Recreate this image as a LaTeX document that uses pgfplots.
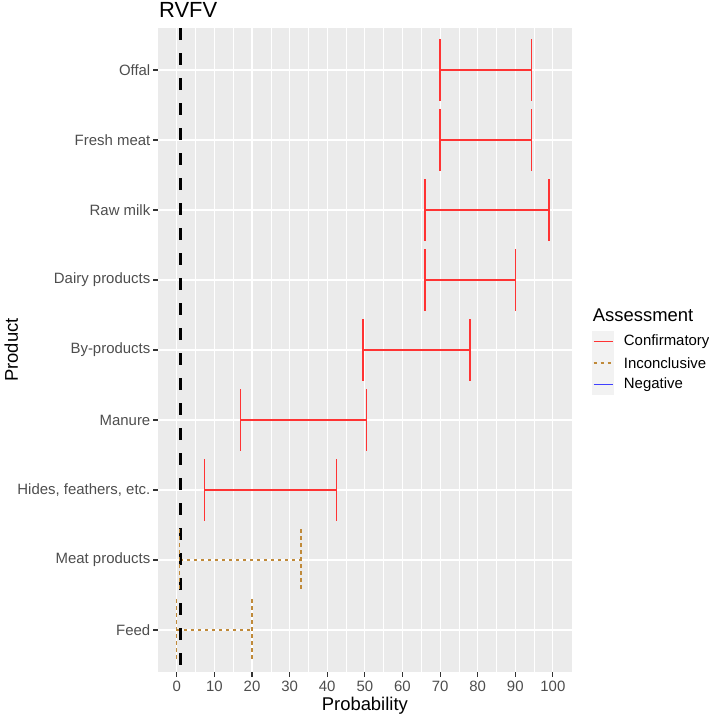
\documentclass[border=0pt]{standalone}
\usepackage{pgfplots}
\pgfplotsset{compat=1.18}
\usepackage{pgfplotstable}
\usepackage{fontspec}
\setmainfont{Liberation Sans}
\definecolor{panelgray}{HTML}{EBEBEB}
\definecolor{keygray}{HTML}{F2F2F2}
\definecolor{ticktext}{HTML}{4D4D4D}
\definecolor{tickcol}{HTML}{333333}
\definecolor{confcol}{HTML}{FF3333}
\definecolor{inccol}{HTML}{C08A3A}
\definecolor{negcol}{HTML}{4040FF}

\pgfplotstableread{
pos lo hi
1 70 94.3
2 70 94.3
3 66 99
4 66 90
5 49.5 78
6 17 50.5
7 7.4 42.5
}\confirm
\pgfplotstableread{
pos lo hi
8 0.8 33
9 0 20
}\inconcl

\begin{document}
\begin{tikzpicture}
\begin{axis}[
  scale only axis,
  width=413.7bp, height=644bp,
  xmin=-5, xmax=105,
  ymin=0.4, ymax=9.6,
  y dir=reverse,
  axis background/.style={fill=panelgray},
  axis line style={draw=none},
  xtick={0,10,...,100},
  minor x tick num=1,
  ytick={1,...,9},
  yticklabels={Offal,Fresh meat,Raw milk,Dairy products,By-products,Manure,{Hides, feathers, etc.},Meat products,Feed},
  xmajorgrids=true, xminorgrids=true, ymajorgrids=true,
  major grid style={white, line width=1.1bp},
  minor grid style={white, line width=0.55bp},
  tick align=outside,
  xtick pos=bottom, ytick pos=left,
  major tick length=4.5bp,
  minor tick length=0pt,
  tick style={tickcol, line width=1.1bp},
  /pgf/number format/assume math mode=true,
  ticklabel style={font=\fontsize{15}{15}\selectfont, text=ticktext},
  xticklabel style={inner sep=0pt, yshift=-4bp},
  yticklabel style={inner sep=0pt, xshift=-3bp},
  clip=false,
]
% Confirmatory
\addplot[confcol, line width=1.5bp, only marks, mark=|, mark size=31bp,
  mark options={confcol, line width=1.5bp},
  error bars/.cd, x dir=plus, x explicit, error mark=|,
  error bar style={confcol, line width=1.5bp},
  error mark options={confcol, mark size=31bp, line width=1.5bp}]
  table[x=lo, y=pos, x error expr=\thisrow{hi}-\thisrow{lo}] {\confirm};
% Inconclusive
\addplot[inccol, line width=1.3bp, only marks, mark=|, mark size=31bp,
  mark options={inccol, line width=1.3bp, dash pattern=on 3.5bp off 3.5bp},
  error bars/.cd, x dir=plus, x explicit, error mark=|,
  error bar style={inccol, line width=1.3bp, dash pattern=on 3.5bp off 3.5bp},
  error mark options={inccol, mark size=31bp, line width=1.3bp, dash pattern=on 3.5bp off 3.5bp}]
  table[x=lo, y=pos, x error expr=\thisrow{hi}-\thisrow{lo}] {\inconcl};
% reference line
\addplot[black, line width=3.3bp, dash pattern=on 12bp off 13bp] coordinates {(1,0.4) (1,9.6)};
\end{axis}
% titles
\node[anchor=base west, inner sep=0pt, font=\fontsize{22}{22}\selectfont] at ([xshift=1bp, yshift=10bp]current axis.north west) {RVFV};
\node[anchor=base, inner sep=0pt, font=\fontsize{18.5}{18.5}\selectfont] at ([yshift=-38bp]current axis.south) {Probability};
\node[anchor=base, inner sep=0pt, rotate=90, font=\fontsize{18.5}{18.5}\selectfont] at ([xshift=-140bp]current axis.west) {Product};
% legend
\begin{scope}[shift={(current axis.north east)}]
  \node[anchor=base west, inner sep=0pt, font=\fontsize{18.5}{18.5}\selectfont] at (21bp,-294bp) {Assessment};
  \fill[keygray] (20bp,-303bp) rectangle (42bp,-367bp);
  \draw[draw=confcol, line width=1.5bp] (22bp,-313.5bp) -- (41bp,-313.5bp);
  \draw[draw=inccol, line width=1.5bp, dash pattern=on 3bp off 4bp] (22bp,-335bp) -- (41bp,-335bp);
  \draw[draw=negcol, line width=1.5bp] (22bp,-356.5bp) -- (41bp,-356.5bp);
  \node[anchor=west, inner sep=0pt, font=\fontsize{15}{15}\selectfont] at (52bp,-313.5bp) {Confirmatory};
  \node[anchor=west, inner sep=0pt, font=\fontsize{15}{15}\selectfont] at (52bp,-335bp) {Inconclusive};
  \node[anchor=west, inner sep=0pt, font=\fontsize{15}{15}\selectfont] at (52bp,-356.5bp) {Negative};
\end{scope}
\pgfresetboundingbox
\path ([xshift=-158bp, yshift=-44bp]current axis.south west) rectangle ([xshift=137bp, yshift=28bp]current axis.north east);
\end{tikzpicture}
\end{document}
